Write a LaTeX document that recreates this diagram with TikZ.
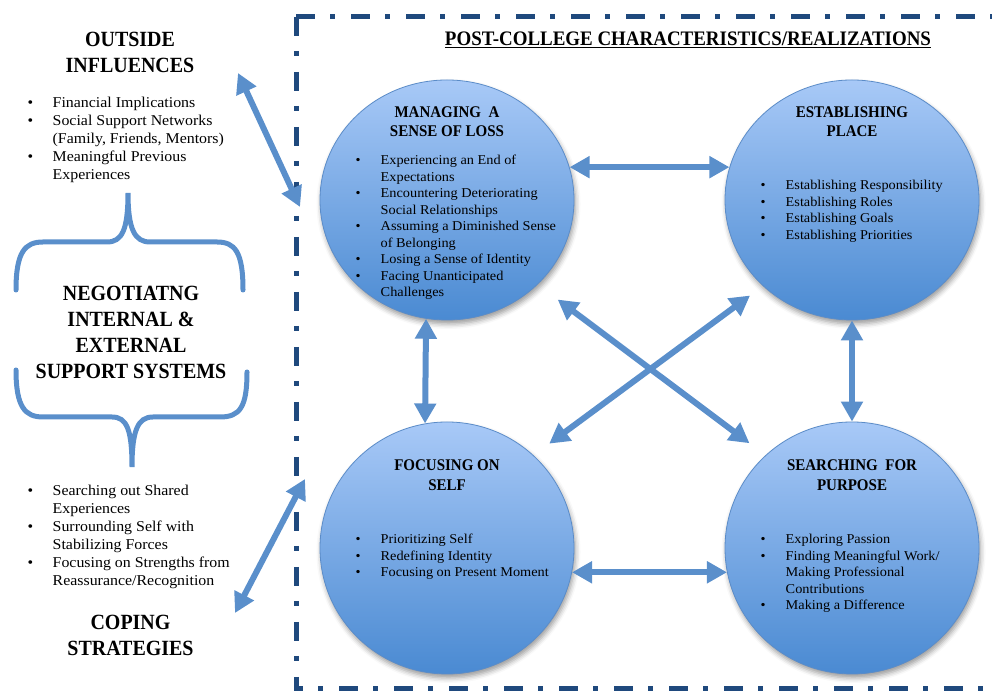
\documentclass[tikz,border=0pt]{standalone}
\usepackage{fontspec}
\setmainfont{Liberation Serif}
\newfontfamily\bodyfont{Liberation Serif}[FakeStretch=1.06]
\newfontfamily\headfont{Liberation Serif}[FakeStretch=0.92]
\usetikzlibrary{arrows.meta,positioning,shapes.geometric,calc,shadows.blur}
\definecolor{frameNavy}{HTML}{1F497D}
\definecolor{linkBlue}{HTML}{5A8FCB}
\definecolor{circTop}{HTML}{A8C9F7}
\definecolor{circBottom}{HTML}{4A8AD2}
\definecolor{circEdge}{HTML}{5B8CC8}
\newcommand{\itm}{\makebox[25pt][l]{\textbullet}}
\tikzset{
  stage/.style={
    ellipse,
    minimum width=254pt,
    inner sep=0pt,
    draw=circEdge,
    line width=0.8pt,
    top color=circTop,
    bottom color=circBottom,
    blur shadow={shadow xshift=1.5pt,shadow yshift=-4pt,shadow blur radius=5pt,shadow opacity=40}
  },
  stageTop/.style={stage,minimum height=240pt},
  stageLow/.style={stage,minimum height=252pt},
  stageTitle/.style={
    font=\headfont\fontsize{16.3}{19.5}\selectfont\bfseries,
    align=center,
    inner sep=0pt
  },
  stageList/.style={
    font=\bodyfont\fontsize{13.5}{16.5}\selectfont,
    inner sep=0pt,
    anchor=base west
  },
  sideHead/.style={
    font=\headfont\fontsize{21.7}{26}\selectfont\bfseries,
    align=center,
    inner sep=0pt,
    anchor=north
  },
  sideList/.style={
    font=\bodyfont\fontsize{15}{18}\selectfont,
    inner sep=0pt,
    anchor=base west
  },
  link/.style={
    {Triangle[length=20pt,width=21pt]}-{Triangle[length=20pt,width=21pt]},
    line width=6pt,
    draw=linkBlue
  },
  brace/.style={
    draw=linkBlue,
    line width=5pt,
    line cap=round
  },
  frameLine/.style={
    draw=frameNavy,
    line width=5pt,
    dash pattern=on 19pt off 15pt on 5pt off 16pt
  }
}

\begin{document}
\begin{tikzpicture}[x=1pt,y=1pt]
  \useasboundingbox (0,0) rectangle (992,692);
  % dash-dot frame
  \draw[frameLine] (296,675) -- (1000,675);
  \draw[frameLine] (296,675) -- (296,3) -- (1000,3);
  \node[font=\headfont\fontsize{20.6}{24}\selectfont\bfseries,inner sep=0pt,anchor=base] (title) at (688,646)
    {\underline{POST-COLLEGE CHARACTERISTICS/REALIZATIONS}};

  % four stages
  \node[stageTop] (loss) at (447,492) {};
  \node[stageTop] (place) at (852,492) {};
  \node[stageLow] (self) at (447,144) {};
  \node[stageLow] (purpose) at (852,144) {};

  \node[stageTitle,below=26.6pt of loss.north] (lossTitle) {MANAGING\ \ A\\SENSE OF LOSS};
  \node[stageTitle,below=26.6pt of place.north] (placeTitle) {ESTABLISHING\\PLACE};
  \node[stageTitle,below=38.3pt of self.north] (selfTitle) {FOCUSING ON\\SELF};
  \node[stageTitle,below=38.3pt of purpose.north] (purposeTitle) {SEARCHING\ \ FOR\\PURPOSE};

  \node[stageList] (lossList) at ($(loss.center)+(-91.5,35)$) {\begin{tabular}[t]{@{}l@{}l@{}}
    \itm & Experiencing an End of\\
         & Expectations\\
    \itm & Encountering Deteriorating\\
         & Social Relationships\\
    \itm & Assuming a Diminished Sense\\
         & of Belonging\\
    \itm & Losing a Sense of Identity\\
    \itm & Facing Unanticipated\\
         & Challenges
  \end{tabular}};
  \node[stageList] (placeList) at ($(place.center)+(-91.5,10)$) {\begin{tabular}[t]{@{}l@{}l@{}}
    \itm & Establishing Responsibility\\
    \itm & Establishing Roles\\
    \itm & Establishing Goals\\
    \itm & Establishing Priorities
  \end{tabular}};
  \node[stageList] (selfList) at ($(self.center)+(-91.5,4)$) {\begin{tabular}[t]{@{}l@{}l@{}}
    \itm & Prioritizing Self\\
    \itm & Redefining Identity\\
    \itm & Focusing on Present Moment
  \end{tabular}};
  \node[stageList] (purposeList) at ($(purpose.center)+(-91.5,4)$) {\begin{tabular}[t]{@{}l@{}l@{}}
    \itm & Exploring Passion\\
    \itm & Finding Meaningful Work/\\
         & Making Professional\\
         & Contributions\\
    \itm & Making a Difference
  \end{tabular}};

  % links between stages
  \draw[link] (loss.15) -- (place.165);
  \draw[link] (self.-11) -- (purpose.191);
  \draw[link] (loss.-100) -- (self.100);
  \draw[link] (place.south) -- (purpose.north);
  \draw[link,shorten <=25pt,shorten >=20pt] (loss.-43) -- (purpose.133);
  \draw[link,shorten <=16pt,shorten >=19.5pt] (place.224) -- (self.47);

  % left column
  \node[sideHead] (outside) at (130,659.7) {OUTSIDE\\INFLUENCES};
  \node[sideList] (outsideList) at (27.5,584) {\begin{tabular}[t]{@{}l@{}l@{}}
    \itm & Financial Implications\\
    \itm & Social Support Networks\\
         & (Family, Friends, Mentors)\\
    \itm & Meaningful Previous\\
         & Experiences
  \end{tabular}};
  \node[sideHead] (negotiate) at (131,406.2) {NEGOTIATNG\\INTERNAL \&\\EXTERNAL\\SUPPORT SYSTEMS};
  \node[sideList] (copingList) at (27.5,196.3) {\begin{tabular}[t]{@{}l@{}l@{}}
    \itm & Searching out Shared\\
         & Experiences\\
    \itm & Surrounding Self with\\
         & Stabilizing Forces\\
    \itm & Focusing on Strengths from\\
         & Reassurance/Recognition
  \end{tabular}};
  \node[sideHead] (coping) at (130.5,77.2) {COPING\\STRATEGIES};

  % braces
  \draw[brace] (16,402) .. controls (16,440) and (25,450) .. (43,450) -- (107,450)
    .. controls (122,450) and (128,462) .. (128,499)
    .. controls (128,462) and (135,450) .. (150,450) -- (217,450)
    .. controls (235,450) and (243,440) .. (243,402);
  \draw[brace] (16,322) .. controls (16,285) and (25,275) .. (43,275) -- (112,275)
    .. controls (127,275) and (132,262) .. (132,225)
    .. controls (132,262) and (138,275) .. (153,275) -- (220,275)
    .. controls (240,275) and (247,285) .. (247,320);

  % links to the frame
  \coordinate (outsideEnd) at (238,619);
  \coordinate (frameHigh) at (300,485);
  \coordinate (frameLow) at (305,213);
  \coordinate (copingEnd) at (235,79);
  \draw[link] (outsideEnd) -- (frameHigh);
  \draw[link] (frameLow) -- (copingEnd);
\end{tikzpicture}
\end{document}
